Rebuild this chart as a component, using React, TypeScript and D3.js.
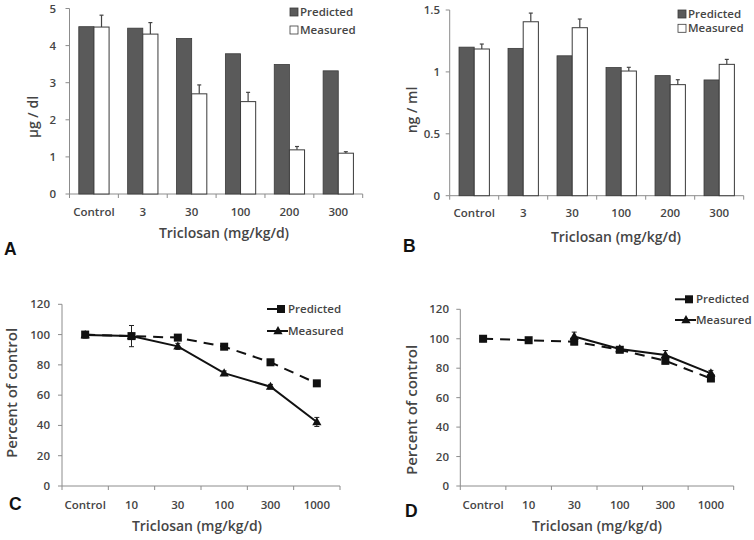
import React from 'react';
import * as d3 from 'd3';

// categories / tick labels
const catsAB = ['Control', '3', '30', '100', '200', '300'];
const catsCD = ['Control', '10', '30', '100', '300', '1000'];
const ticksA = [0, 1, 2, 3, 4, 5];
const ticksB = [0, 0.5, 1, 1.5];
const ticksCD = [0, 20, 40, 60, 80, 100, 120];

// panel A (µg / dl)
const aPredicted = [4.51, 4.47, 4.19, 3.78, 3.49, 3.32];
const aMeasured = [4.5, 4.31, 2.7, 2.49, 1.19, 1.1];
const aMeasuredErr = [0.32, 0.31, 0.24, 0.25, 0.09, 0.04];

// panel B (ng / ml)
const bPredicted = [1.2, 1.19, 1.13, 1.035, 0.97, 0.935];
const bMeasured = [1.185, 1.405, 1.357, 1.007, 0.897, 1.061];
const bMeasuredErr = [0.04, 0.07, 0.07, 0.03, 0.04, 0.04];

// panel C (percent of control)
const cPredicted = [100, 99, 98, 92, 81.7, 67.8];
const cPredictedErr = [1.5, 1, 1.5, 1.5, 1.5, 1.5];
const cMeasured = [99.7, 99, 92.2, 74.5, 65.6, 42.3];
const cMeasuredErr = [2, 7, 2, 1.5, 1.5, 3];

// panel D (percent of control)
const dPredicted = [100, 99, 98, 92.5, 85, 73];
const dPredictedErr = [2, 1, 2, 1.5, 2, 1.5];
const dMeasured = [null, null, 101.5, 93, 89, 76.5];
const dMeasuredErr = [0, 0, 3, 1.5, 3, 2];

const font = '"Open Sans", "Liberation Sans", sans-serif';
const textColor = '#454545';
const axisColor = '#8c8c8c';
const tickSize = 11.5;

type BarProps = {
  x0: number; x1: number; yTop: number; yBottom: number; max: number;
  ticks: number[]; cats: string[];
  predicted: number[]; measured: number[]; err: number[];
  yLabel: string; yLabelX: number; yLabelY: number; tickEnd: number;
  tickY: number; titleX: number; titleY: number;
  legX: number; legY: number; legGap: number;
  letter: string; letterX: number; letterY: number;
};

function BarPanel(p: BarProps) {
  const x = d3.scaleBand<string>().domain(p.cats).range([p.x0, p.x1])
    .paddingInner(0.38).paddingOuter(0.19);
  const y = d3.scaleLinear().domain([0, p.max]).range([p.yBottom, p.yTop]);
  const bw = x.bandwidth() / 2;
  const step = x.step();
  return (
    <g fontFamily={font}>
      {/* axes */}
      <line x1={p.x0} x2={p.x0} y1={y(p.max)} y2={y(0)} stroke={axisColor} />
      <line x1={p.x0} x2={p.x1} y1={y(0)} y2={y(0)} stroke={axisColor} />
      {p.ticks.map(t => (
        <g key={t}>
          <line x1={p.x0 - 4} x2={p.x0} y1={y(t)} y2={y(t)} stroke={axisColor} />
          <text x={p.tickEnd} y={y(t) + 4} textAnchor="end" fontSize={tickSize} fontWeight={600} fill={textColor}>{t}</text>
        </g>
      ))}
      {d3.range(p.cats.length + 1).map(i => (
        <line key={i} x1={p.x0 + i * step} x2={p.x0 + i * step} y1={y(0)} y2={y(0) + 4} stroke={axisColor} />
      ))}
      {p.cats.map((c, i) => {
        const bx = x(c) as number;
        const top = y(p.measured[i] + p.err[i]);
        const mx = bx + bw * 1.5;
        return (
          <g key={c}>
            <rect x={bx} y={y(p.predicted[i])} width={bw} height={y(0) - y(p.predicted[i])} fill="#5a5a5a" stroke="#3a3a3a" strokeWidth={0.8} />
            <line x1={mx} x2={mx} y1={top} y2={y(p.measured[i])} stroke="#444" strokeWidth={1.2} />
            <line x1={mx - 2} x2={mx + 2} y1={top} y2={top} stroke="#444" strokeWidth={1.2} />
            <rect x={bx + bw} y={y(p.measured[i])} width={bw} height={y(0) - y(p.measured[i])} fill="#fff" stroke="#3a3a3a" strokeWidth={1} />
            <text x={bx + bw} y={p.tickY} textAnchor="middle" fontSize={tickSize} fontWeight={600} fill={textColor}>{c}</text>
          </g>
        );
      })}
      <text x={p.titleX} y={p.titleY} textAnchor="middle" fontSize={14} fontWeight={600} fill={textColor}>Triclosan (mg/kg/d)</text>
      <text transform={`translate(${p.yLabelX},${p.yLabelY}) rotate(-90)`} textAnchor="middle" dy="0.35em" fontSize={14} fontWeight={600} fill={textColor}>{p.yLabel}</text>
      {/* legend */}
      <rect x={p.legX} y={p.legY - 4} width={8} height={8} fill="#5a5a5a" stroke="#3a3a3a" strokeWidth={0.8} />
      <text x={p.legX + 10} y={p.legY + 4} fontSize={tickSize} fontWeight={600} fill={textColor}>Predicted</text>
      <rect x={p.legX} y={p.legY + p.legGap - 4} width={8} height={8} fill="#fff" stroke="#3a3a3a" strokeWidth={0.8} />
      <text x={p.legX + 10} y={p.legY + p.legGap + 4} fontSize={tickSize} fontWeight={600} fill={textColor}>Measured</text>
      <text x={p.letterX} y={p.letterY} fontFamily='"Liberation Sans", Arial, sans-serif' fontWeight="bold" fontSize={17.5} fill="#111">{p.letter}</text>
    </g>
  );
}

type LineProps = {
  x0: number; x1: number; yTop: number; yBottom: number;
  cats: string[];
  predicted: (number | null)[]; predictedErr: number[];
  measured: (number | null)[]; measuredErr: number[];
  yLabelX: number; yLabelY: number; tickEnd: number;
  tickY: number; titleX: number; titleY: number;
  legX: number; legY: number; legGap: number; legTextX: number;
  letter: string; letterX: number; letterY: number;
};

function Triangle({ cx, cy }: { cx: number; cy: number }) {
  return <path d={`M${cx},${cy - 5}L${cx + 4.6},${cy + 3.2}L${cx - 4.6},${cy + 3.2}Z`} fill="#111" />;
}

function LinePanel(p: LineProps) {
  const x = d3.scaleBand<string>().domain(p.cats).range([p.x0, p.x1]).paddingInner(0).paddingOuter(0);
  const y = d3.scaleLinear().domain([0, 120]).range([p.yBottom, p.yTop]);
  const step = x.step();
  const cx = (c: string) => (x(c) as number) + step / 2;
  const line = d3.line<number | null>()
    .defined(v => v != null)
    .x((_, i) => cx(p.cats[i]))
    .y(v => y(v as number));
  const errs = (vals: (number | null)[], e: number[]) => vals.map((v, i) => {
    if (v == null || !e[i]) return null;
    const px = cx(p.cats[i]);
    return (
      <g key={i} stroke="#222" strokeWidth={1}>
        <line x1={px} x2={px} y1={y(v + e[i])} y2={y(v - e[i])} />
        <line x1={px - 2.5} x2={px + 2.5} y1={y(v + e[i])} y2={y(v + e[i])} />
        <line x1={px - 2.5} x2={px + 2.5} y1={y(v - e[i])} y2={y(v - e[i])} />
      </g>
    );
  });
  return (
    <g fontFamily={font}>
      <line x1={p.x0} x2={p.x0} y1={y(120)} y2={y(0)} stroke={axisColor} />
      <line x1={p.x0} x2={p.x1} y1={y(0)} y2={y(0)} stroke={axisColor} />
      {ticksCD.map(t => (
        <g key={t}>
          <line x1={p.x0 - 4} x2={p.x0} y1={y(t)} y2={y(t)} stroke={axisColor} />
          <text x={p.tickEnd} y={y(t) + 4} textAnchor="end" fontSize={tickSize} fontWeight={600} fill={textColor}>{t}</text>
        </g>
      ))}
      {d3.range(p.cats.length + 1).map(i => (
        <line key={i} x1={p.x0 + i * step} x2={p.x0 + i * step} y1={y(0)} y2={y(0) + 4} stroke={axisColor} />
      ))}
      {p.cats.map(c => (
        <text key={c} x={cx(c)} y={p.tickY} textAnchor="middle" fontSize={tickSize} fontWeight={600} fill={textColor}>{c}</text>
      ))}
      {errs(p.predicted, p.predictedErr)}
      {errs(p.measured, p.measuredErr)}
      <path d={line(p.predicted) || ''} fill="none" stroke="#111" strokeWidth={2} strokeDasharray="10,7" />
      <path d={line(p.measured) || ''} fill="none" stroke="#111" strokeWidth={2} />
      {p.predicted.map((v, i) => v == null ? null : (
        <rect key={i} x={cx(p.cats[i]) - 4} y={y(v) - 4} width={8} height={8} fill="#111" />
      ))}
      {p.measured.map((v, i) => v == null ? null : (
        <Triangle key={i} cx={cx(p.cats[i])} cy={y(v)} />
      ))}
      <text x={p.titleX} y={p.titleY} textAnchor="middle" fontSize={14} fontWeight={600} fill={textColor}>Triclosan (mg/kg/d)</text>
      <text transform={`translate(${p.yLabelX},${p.yLabelY}) rotate(-90)`} textAnchor="middle" dy="0.35em" fontSize={15} fontWeight={600} fill={textColor}>Percent of control</text>
      {/* legend */}
      <line x1={p.legX} x2={p.legX + 14} y1={p.legY} y2={p.legY} stroke="#111" strokeWidth={2} />
      <rect x={p.legX + 10} y={p.legY - 4} width={8} height={8} fill="#111" />
      <text x={p.legTextX} y={p.legY + 4} fontSize={tickSize} fontWeight={600} fill={textColor}>Predicted</text>
      <line x1={p.legX} x2={p.legX + 21} y1={p.legY + p.legGap} y2={p.legY + p.legGap} stroke="#111" strokeWidth={2} />
      <Triangle cx={p.legX + 11} cy={p.legY + p.legGap} />
      <text x={p.legX + 21} y={p.legY + p.legGap + 4} fontSize={tickSize} fontWeight={600} fill={textColor}>Measured</text>
      <text x={p.letterX} y={p.letterY} fontFamily='"Liberation Sans", Arial, sans-serif' fontWeight="bold" fontSize={17.5} fill="#111">{p.letter}</text>
    </g>
  );
}

export default function App() {
  return (
    <svg width={754} height={540} style={{ position: 'absolute', left: 0, top: 0, background: '#fff' }}>
      <rect width={754} height={540} fill="#fff" />
      <BarPanel x0={69.5} x1={362.7} yTop={8.5} yBottom={194} max={5} ticks={ticksA} cats={catsAB}
        predicted={aPredicted} measured={aMeasured} err={aMeasuredErr}
        yLabel="µg / dl" yLabelX={33} yLabelY={117} tickEnd={56}
        tickY={216} titleX={224} titleY={238}
        legX={290} legY={12} legGap={18}
        letter="A" letterX={4} letterY={255} />
      <BarPanel x0={449.7} x1={743.7} yTop={10} yBottom={195.7} max={1.5} ticks={ticksB} cats={catsAB}
        predicted={bPredicted} measured={bMeasured} err={bMeasuredErr}
        yLabel="ng / ml" yLabelX={412} yLabelY={110} tickEnd={440}
        tickY={217} titleX={616} titleY={242}
        legX={678} legY={14} legGap={14.3}
        letter="B" letterX={403} letterY={252} />
      <LinePanel x0={62} x1={340} yTop={304.3} yBottom={486} cats={catsCD}
        predicted={cPredicted} predictedErr={cPredictedErr}
        measured={cMeasured} measuredErr={cMeasuredErr}
        yLabelX={12} yLabelY={393} tickEnd={50}
        tickY={509} titleX={197} titleY={531}
        legX={267} legY={309} legGap={22} legTextX={288}
        letter="C" letterX={9} letterY={510} />
      <LinePanel x0={460.3} x1={733.7} yTop={309.3} yBottom={486} cats={catsCD}
        predicted={dPredicted} predictedErr={dPredictedErr}
        measured={dMeasured} measuredErr={dMeasuredErr}
        yLabelX={412} yLabelY={410} tickEnd={449}
        tickY={509} titleX={597} titleY={531}
        legX={675} legY={299.3} legGap={20.7} legTextX={696}
        letter="D" letterX={405} letterY={517} />
    </svg>
  );
}
